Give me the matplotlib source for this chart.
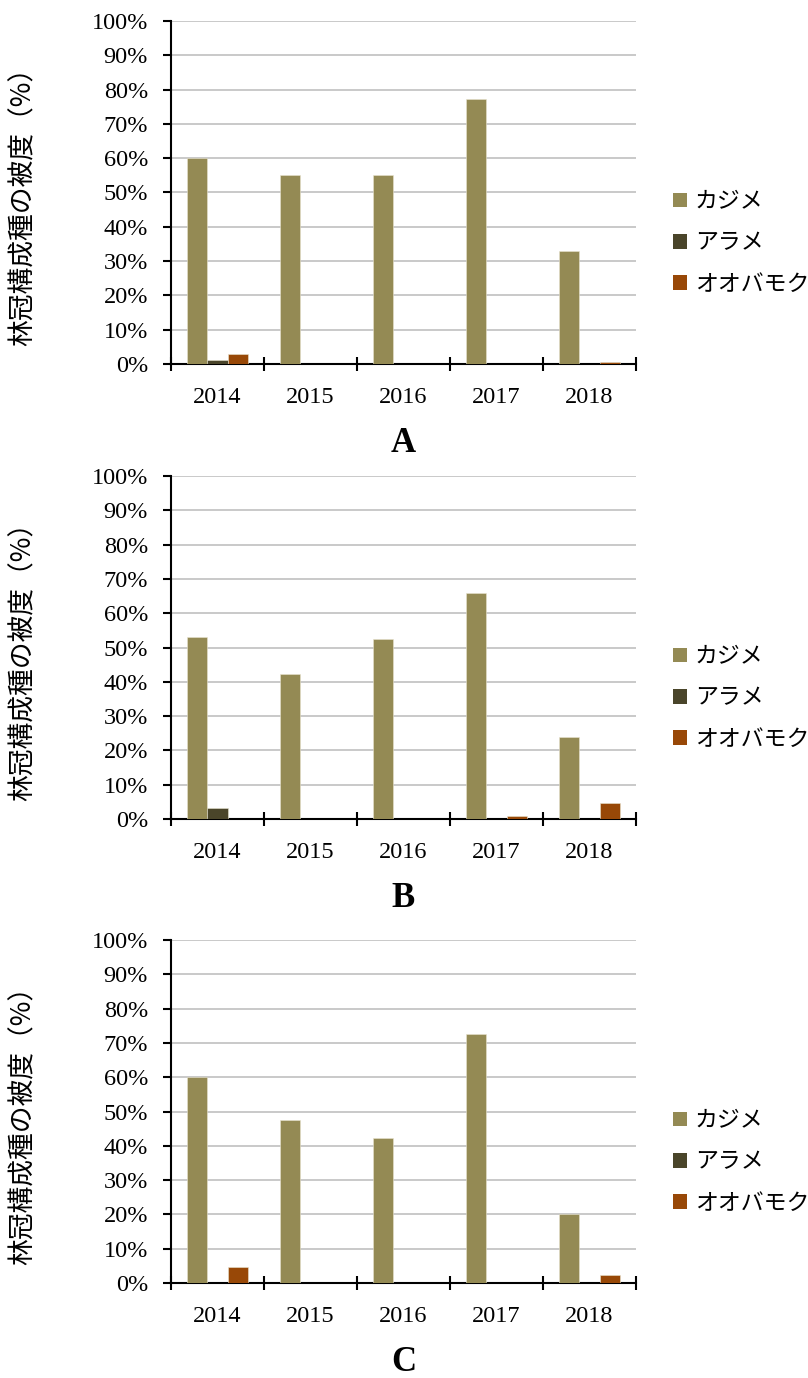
import matplotlib as mpl
mpl.use('Agg')
import matplotlib.pyplot as plt
import numpy as np
from matplotlib.patches import Patch

# データ
years = ['2014', '2015', '2016', '2017', '2018']
species = ['カジメ', 'アラメ', 'オオバモク']
colors = ['#948A54', '#4A452A', '#984807']
panels = ['A', 'B', 'C']

kajime_a = [60.0, 55.2, 55.2, 77.3, 32.8]
arame_a = [1.2, 0.0, 0.0, 0.0, 0.0]
oobamoku_a = [2.8, 0.0, 0.0, 0.0, 0.7]

kajime_b = [53.2, 42.3, 52.5, 66.0, 23.8]
arame_b = [3.2, 0.0, 0.0, 0.0, 0.0]
oobamoku_b = [0.0, 0.0, 0.0, 0.9, 4.7]

kajime_c = [60.0, 47.6, 42.2, 72.5, 20.0]
arame_c = [0.0, 0.0, 0.0, 0.0, 0.0]
oobamoku_c = [4.6, 0.0, 0.0, 0.0, 2.3]

data = [[kajime_a, arame_a, oobamoku_a],
        [kajime_b, arame_b, oobamoku_b],
        [kajime_c, arame_c, oobamoku_c]]

CJK = ['Noto Sans CJK JP', 'DejaVu Sans']
SERIF = 'Liberation Serif'

W, H = 808, 1378
fig = plt.figure(figsize=(W / 100, H / 100), dpi=100)

# 各パネルの上端・下端（ピクセル）
tops = [21, 476, 940]
bottoms = [364, 819, 1283]
left, right = 171, 636

x = np.arange(len(years)) + 0.5
bw = 0.22

for i in range(3):
    ax = fig.add_axes([left / W, 1 - bottoms[i] / H, (right - left) / W, (bottoms[i] - tops[i]) / H])
    for k in range(3):
        ax.bar(x + (k - 1) * bw, data[i][k], width=bw, color=colors[k],
               edgecolor='#e8e4d0', linewidth=0.4, zorder=3)

    ax.set_xlim(0, 5)
    ax.set_ylim(0, 100)
    ax.set_yticks(np.arange(0, 101, 10))
    ax.set_yticklabels([f'{v}%' for v in range(0, 101, 10)], fontfamily=SERIF, fontsize=17.5)
    ax.yaxis.grid(True, color='#c0c0c0', linewidth=1.2, zorder=0)
    ax.tick_params(axis='y', direction='out', length=5.5, width=1.5, pad=11)

    ax.set_xticks(np.arange(0, 6))
    ax.set_xticklabels([])
    ax.set_xticks(x, minor=True)
    ax.set_xticklabels(years, minor=True, fontfamily=SERIF, fontsize=17.5)
    ax.tick_params(axis='x', which='major', direction='inout', length=10, width=1.5)
    ax.tick_params(axis='x', which='minor', length=0, pad=16.5)

    for s in ['top', 'right']:
        ax.spines[s].set_visible(False)
    for s in ['left', 'bottom']:
        ax.spines[s].set_linewidth(1.5)

    # 縦軸ラベル
    fig.text(23 / W, 1 - (tops[i] + 179) / H, '林冠構成種の被度（%）', rotation=90,
             ha='center', va='center', fontfamily=CJK, fontsize=19.3)

    handles = [Patch(facecolor=c, edgecolor='none') for c in colors]
    ax.legend(handles, species, loc='center left', bbox_to_anchor=(1.06, 0.353),
              frameon=False, prop={'family': CJK, 'size': 16.5},
              handlelength=0.6, handleheight=0.6, handletextpad=0.35, labelspacing=0.8,
              borderaxespad=0.0)

    ax.text(0.5, -0.232, panels[i], transform=ax.transAxes, ha='center', va='center',
            fontfamily=SERIF, fontweight='bold', fontsize=25)

fig.savefig('out.png', dpi=100)
